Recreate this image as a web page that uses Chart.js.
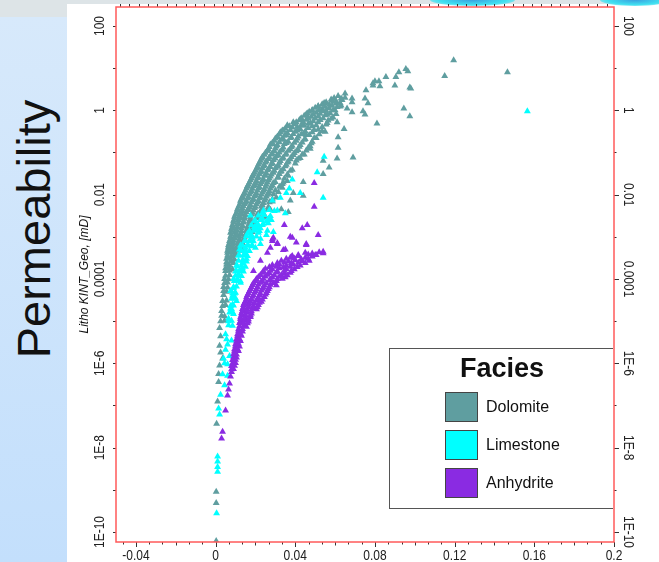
<!DOCTYPE html>
<html>
<head>
<meta charset="utf-8">
<script src="https://cdn.jsdelivr.net/npm/chart.js@4/dist/chart.umd.min.js"></script>
<style>
html,body{margin:0;padding:0;}
body{width:659px;height:562px;position:relative;overflow:hidden;background:#dde4e7;font-family:Arial,"Liberation Sans",sans-serif;}
#side{position:absolute;left:0;top:17px;width:67px;height:545px;background:linear-gradient(#d7e9fb,#c3dffc);}
#sheet{position:absolute;left:67px;top:4px;width:592px;height:558px;background:#fff;}
.blob{position:absolute;top:-6px;height:12px;border-radius:50%;background:radial-gradient(ellipse at center,#3aa0e0 0%,#40e0f0 55%,rgba(221,228,231,0) 100%);}
#bigTitle{position:absolute;left:-116px;top:199px;width:300px;height:60px;line-height:60px;font-size:47px;text-align:center;color:#111;transform:rotate(-90deg);transform-origin:50% 50%;white-space:nowrap;}
canvas{position:absolute;left:0;top:0;}
#legend{position:absolute;left:389px;top:348px;width:224px;height:161px;box-sizing:border-box;border:1.5px solid #555;border-right:none;background:#fff;}
#legend .ttl{position:absolute;left:0;width:224px;top:3px;text-align:center;font-weight:bold;font-size:27px;line-height:32px;color:#111;}
#legend .sw{position:absolute;left:55px;width:33px;height:30px;box-sizing:border-box;border:1px solid #444;}
#legend .lb{position:absolute;left:96px;font-size:16px;line-height:30px;color:#111;white-space:nowrap;}
</style>
</head>
<body>
<div id="side"></div>
<div id="sheet"></div>
<div class="blob" style="left:430px;width:85px;"></div>
<div class="blob" style="left:600px;width:70px;"></div>
<div id="bigTitle">Permeability</div>
<canvas id="c" width="659" height="562"></canvas>
<div id="legend"></div>
<script>
// ---- axis ticks / labels ----
const xTickValues = [-0.04, 0, 0.04, 0.08, 0.12, 0.16, 0.2];
const xTickLabels = ['-0.04', '0', '0.04', '0.08', '0.12', '0.16', '0.2'];
const yTickValues = [100, 1, 0.01, 0.0001, 1e-6, 1e-8, 1e-10];
const yTickLabels = ['100', '1', '0.01', '0.0001', '1E-6', '1E-8', '1E-10'];
const yDecades = [100, 10, 1, 0.1, 0.01, 1e-3, 1e-4, 1e-5, 1e-6, 1e-7, 1e-8, 1e-9, 1e-10];
const yAxisTitle = 'Litho KINT_Geo, [mD]';
const pageTitle = 'Permeability';
const legendTitle = 'Facies';
const seriesNames = ['Dolomite', 'Limestone', 'Anhydrite'];
const seriesColors = ['#5f9ea0', '#00ffff', '#8a2be2'];

// ---- series: [porosity, permeability mD] ----
const dolomitePoints = [
 [0.1195,15.5],[0.115,6.5],[0.1465,8.0],[0.0965,8.5],[0.0955,9.5],[0.092,8.0],[0.0905,6.2],[0.0855,6.2],
 [0.082,4.9],[0.080,4.9],[0.079,3.9],[0.0825,3.7],[0.090,3.9],[0.0975,3.5],[0.0755,3.0],[0.075,1.9],
 [0.0765,1.47],[0.074,0.95],[0.075,0.8],[0.0945,1.1],[0.0975,0.72],[0.081,0.49],[0.065,2.5],[0.0685,1.9],
 [0.0685,1.55],[0.063,1.3],[0.066,1.1],[0.0685,0.9],[0.060,1.0],[0.0585,1.7],[0.061,0.52],[0.0645,0.36],
 [0.098,3.3],[0.079,4.4],[0.0545,1.5],[0.0515,1.25],[0.0485,1.0],[0.046,0.85],[0.0425,0.61],[0.039,0.52],
 [0.036,0.44],[0.0335,0.33],[0.031,0.23],[0.0285,0.16],[0.026,0.11],[0.0235,0.076],[0.021,0.044],[0.0185,0.028],
 [0.016,0.016],[0.0135,0.0085],[0.011,0.0042],[0.0085,0.0016],[0.0065,0.00055],[0.006,0.00032],
 [0.069,0.076],[0.0615,0.23],[0.0615,0.13],[0.061,0.072],[0.057,0.044],[0.054,0.064],[0.054,0.031],
 [0.044,0.020],[0.044,0.0094],[0.039,0.011],[0.0375,0.0073],[0.0365,0.0039],
 [0.0615,2.2],[0.065,2.0],
 [0.058,1.8],[0.0605,1.65],[0.0635,1.75],
 [0.0535,1.4],[0.057,1.35],[0.0605,1.45],
 [0.05,1.15],[0.0535,1.08],[0.057,1.12],[0.061,1.2],
 [0.047,0.92],[0.0505,0.88],[0.054,0.95],[0.0575,0.85],
 [0.0445,0.74],[0.048,0.7],[0.0515,0.72],[0.055,0.76],[0.059,0.68],
 [0.042,0.58],[0.0455,0.6],[0.049,0.55],[0.0525,0.59],[0.0565,0.57],
 [0.0395,0.47],[0.043,0.45],[0.0465,0.48],[0.0505,0.44],[0.0555,0.46],
 [0.035,0.37],[0.0385,0.39],[0.0425,0.36],[0.0465,0.38],[0.0515,0.35],
 [0.0325,0.30],[0.036,0.29],[0.04,0.31],[0.044,0.28],[0.0485,0.30],[0.0535,0.32],
 [0.031,0.24],[0.0345,0.25],[0.038,0.23],[0.0415,0.24],[0.0455,0.26],[0.0505,0.22],
 [0.0295,0.19],[0.033,0.2],[0.0365,0.18],[0.0405,0.19],[0.0445,0.2],[0.0485,0.18],
 [0.0275,0.155],[0.031,0.15],[0.0345,0.16],[0.0385,0.145],[0.0425,0.15],[0.0475,0.14],
 [0.0265,0.12],[0.03,0.125],[0.0335,0.118],[0.0375,0.12],[0.0415,0.115],[0.0475,0.122],
 [0.025,0.098],[0.0285,0.095],[0.032,0.1],[0.0355,0.093],[0.0395,0.097],[0.0445,0.09],
 [0.0235,0.079],[0.027,0.077],[0.0305,0.082],[0.034,0.075],[0.038,0.078],[0.0425,0.074],
 [0.0225,0.064],[0.0255,0.062],[0.029,0.066],[0.0325,0.063],[0.0365,0.061],[0.0405,0.065],
 [0.0215,0.052],[0.0245,0.05],[0.028,0.053],[0.0315,0.049],[0.0355,0.051],
 [0.0205,0.041],[0.0235,0.042],[0.0265,0.04],[0.03,0.043],[0.034,0.04],[0.0385,0.039],
 [0.0195,0.033],[0.0225,0.034],[0.0255,0.032],[0.029,0.033],[0.0325,0.035],
 [0.0185,0.027],[0.0215,0.026],[0.0245,0.028],[0.0275,0.027],[0.0315,0.026],[0.0365,0.028],
 [0.0175,0.022],[0.0205,0.021],[0.0235,0.0215],[0.0265,0.022],[0.03,0.02],[0.036,0.021],
 [0.0165,0.0175],[0.0195,0.017],[0.0225,0.018],[0.0255,0.0172],[0.0285,0.0168],[0.0335,0.0178],
 [0.0155,0.014],[0.0185,0.0138],[0.0215,0.0142],[0.0245,0.0135],[0.0275,0.014],[0.0335,0.0145],
 [0.0145,0.011],[0.0175,0.0113],[0.0205,0.0108],[0.0235,0.0112],[0.0265,0.011],[0.0315,0.0115],
 [0.0135,0.009],[0.0165,0.0088],[0.0195,0.0092],[0.0225,0.0087],[0.0255,0.009],[0.0305,0.0086],
 [0.0125,0.0072],[0.0155,0.007],[0.0185,0.0074],[0.0215,0.0071],[0.0245,0.0073],[0.0285,0.0069],
 [0.012,0.0058],[0.0145,0.006],[0.0175,0.0057],[0.0205,0.0059],[0.0235,0.0056],
 [0.011,0.0046],[0.0135,0.0047],[0.0165,0.0045],[0.0195,0.0048],[0.0235,0.0046],[0.0275,0.0044],[0.033,0.0045],
 [0.0105,0.0037],[0.013,0.0036],[0.0155,0.0038],[0.0185,0.0037],[0.0215,0.0035],
 [0.0095,0.003],[0.012,0.0031],[0.0145,0.0029],[0.0175,0.003],[0.021,0.0031],[0.025,0.0029],
 [0.009,0.0024],[0.0115,0.0025],[0.014,0.0023],[0.017,0.0024],
 [0.0085,0.0019],[0.011,0.002],[0.0135,0.0018],[0.0165,0.0019],[0.0205,0.0019],
 [0.008,0.00155],[0.0105,0.0015],[0.013,0.0016],[0.016,0.00155],
 [0.0075,0.00125],[0.01,0.0013],[0.0125,0.0012],[0.0155,0.00125],[0.0185,0.0013],
 [0.0075,0.001],[0.0095,0.00098],[0.012,0.00102],[0.0145,0.001],
 [0.007,0.0008],[0.009,0.00082],[0.0115,0.00078],[0.014,0.0008],
 [0.0065,0.00064],[0.0085,0.00066],[0.011,0.00062],
 [0.0065,0.00052],[0.0085,0.0005],[0.0105,0.00053],[0.0135,0.00051],
 [0.006,0.00042],[0.008,0.00043],[0.01,0.0004],
 [0.0055,0.0003],[0.0075,0.00031],[0.0095,0.00029],
 [0.0055,0.00022],[0.007,0.00021],
 [0.005,0.000155],[0.007,0.00016],
 [0.0045,0.0001],[0.0065,0.000098],
 [0.004,6.5e-5],[0.006,6.3e-5],
 [0.004,4.2e-5],
 [0.0035,3.0e-5],[0.0055,3.1e-5],
 [0.003,1.73e-5],
 [0.0025,1.0e-5],[0.0045,1.02e-5],
 [0.002,6.9e-6],[0.0025,4.4e-6],[0.002,2.6e-6],[0.0025,1.8e-6],[0.0035,1.3e-6],[0.002,8.9e-7],
 [0.0015,5.6e-7],[0.0015,3.6e-7],[0.001,1.25e-7],[0.0005,3.7e-8],
 [0.0003,9e-10],[0.0003,4.9e-10],[0.0003,6.1e-11],
 // in-between rows of the dense cloud
 [0.0595,1.95],[0.063,1.9],
 [0.0555,1.55],[0.059,1.6],[0.0625,1.5],
 [0.0515,1.25],[0.055,1.22],[0.0585,1.28],[0.0625,1.24],
 [0.0485,1.0],[0.052,1.02],[0.0555,0.98],[0.059,1.0],
 [0.0455,0.81],[0.049,0.8],[0.0525,0.83],[0.056,0.79],[0.0605,0.82],
 [0.043,0.65],[0.0465,0.66],[0.05,0.64],[0.054,0.65],[0.058,0.63],
 [0.0405,0.52],[0.044,0.53],[0.0475,0.51],[0.0515,0.52],[0.056,0.5],
 [0.037,0.42],[0.041,0.41],[0.0445,0.43],[0.0485,0.42],[0.0535,0.4],
 [0.034,0.33],[0.0375,0.34],[0.041,0.33],[0.045,0.32],[0.0495,0.34],[0.055,0.31],
 [0.032,0.27],[0.0355,0.26],[0.039,0.275],[0.043,0.27],[0.047,0.26],[0.052,0.27],
 [0.030,0.215],[0.034,0.21],[0.0375,0.22],[0.041,0.215],[0.045,0.21],[0.0495,0.22],
 [0.0285,0.17],[0.032,0.175],[0.0355,0.168],[0.0395,0.17],[0.0435,0.172],[0.048,0.165],
 [0.027,0.135],[0.0305,0.138],[0.034,0.132],[0.038,0.135],[0.042,0.137],[0.0465,0.13],
 [0.026,0.11],[0.0295,0.108],[0.033,0.112],[0.0365,0.11],[0.0405,0.107],[0.0455,0.111],
 [0.0245,0.088],[0.028,0.09],[0.0315,0.086],[0.035,0.088],[0.039,0.087],[0.0435,0.089],
 [0.023,0.071],[0.0265,0.07],[0.03,0.072],[0.0335,0.071],[0.0375,0.069],[0.0415,0.071],
 [0.022,0.057],[0.025,0.058],[0.0285,0.056],[0.032,0.057],[0.036,0.058],[0.04,0.055],
 [0.021,0.046],[0.024,0.047],[0.0275,0.045],[0.031,0.046],[0.035,0.047],
 [0.02,0.037],[0.023,0.036],[0.026,0.038],[0.0295,0.037],[0.033,0.036],[0.0375,0.037],
 [0.019,0.030],[0.022,0.031],[0.025,0.029],[0.028,0.030],[0.032,0.031],[0.036,0.030],
 [0.018,0.024],[0.021,0.0245],[0.024,0.0235],[0.027,0.024],[0.031,0.025],[0.0345,0.024],
 [0.017,0.0193],[0.02,0.019],[0.023,0.0197],[0.026,0.0193],[0.029,0.019],[0.034,0.0195],
 [0.016,0.0155],[0.019,0.0158],[0.022,0.0152],[0.025,0.0155],[0.028,0.0157],[0.032,0.0153],
 [0.015,0.0124],[0.018,0.0122],[0.021,0.0126],[0.024,0.0124],[0.027,0.0121],[0.03,0.0125],
 [0.014,0.0100],[0.017,0.0102],[0.02,0.0098],[0.023,0.0101],[0.026,0.0099],[0.029,0.0102],
 [0.013,0.008],[0.016,0.0081],[0.019,0.0079],[0.022,0.0082],[0.025,0.008],[0.0285,0.0078],
 [0.0125,0.0065],[0.015,0.0064],[0.018,0.0066],[0.021,0.0065],[0.024,0.0063],[0.027,0.0066],
 [0.0115,0.0052],[0.014,0.0053],[0.017,0.0051],[0.02,0.0052],[0.023,0.0053],[0.0265,0.0051],
 [0.011,0.0042],[0.0135,0.0041],[0.016,0.0043],[0.019,0.0042],[0.0225,0.0041],[0.026,0.0043],
 [0.010,0.0034],[0.0125,0.0035],[0.015,0.0033],[0.018,0.0034],[0.021,0.0035],[0.0245,0.0033],
 [0.0095,0.0027],[0.012,0.0028],[0.0145,0.0027],[0.0175,0.0026],[0.0205,0.0028],
 [0.009,0.0022],[0.0115,0.0021],[0.014,0.0022],[0.017,0.0023],[0.0195,0.0021],
 [0.0085,0.00175],[0.011,0.0017],[0.0135,0.0018],[0.016,0.00172],[0.019,0.00175],
 [0.008,0.0014],[0.0105,0.00142],[0.013,0.00138],[0.0155,0.0014],[0.0175,0.00143],
 [0.008,0.00112],[0.0105,0.0011],[0.013,0.00114],[0.015,0.00111],
 [0.0075,0.0009],[0.0095,0.00092],[0.012,0.00088],[0.0145,0.0009],
 [0.007,0.00072],[0.009,0.0007],[0.0115,0.00073],[0.0135,0.00071],
 [0.0065,0.00058],[0.0085,0.00059],[0.011,0.00057],
 [0.006,0.00047],[0.008,0.00046],[0.01,0.00048],[0.0125,0.00047],
 [0.006,0.00036],[0.008,0.00035],[0.01,0.00037],
 [0.0055,0.00025],[0.0075,0.00026],[0.009,0.00024],
 [0.005,0.00018],[0.0065,0.00019],[0.0085,0.00017],
 [0.005,0.00012],[0.007,0.000125],
 [0.0045,8e-5],[0.006,8.2e-5],
 [0.004,5.2e-5],[0.0055,5.0e-5],
 [0.0035,2.3e-5],[0.005,2.4e-5],
 [0.003,1.35e-5],[0.0045,1.3e-5]
];

const limestonePoints = [
 [0.1565,0.95],[0.0545,0.079],[0.051,0.034],[0.054,0.0085],[0.0425,0.011],[0.0385,0.023],[0.037,0.014],
 [0.0355,0.011],[0.0325,0.0085],[0.0285,0.0073],[0.031,0.0042],[0.035,0.0036],[0.0235,0.0036],[0.0265,0.0027],
 [0.0215,0.0019],[0.019,0.0014],[0.029,0.0013],[0.0175,0.0008],[0.0225,0.00068],[0.015,0.00055],
 [0.024,0.00204],[0.021,0.00155],[0.0185,0.00095],[0.0165,0.00062],[0.015,0.0004],[0.0135,0.00024],
 [0.0125,0.000155],[0.011,0.0001],[0.009,6.1e-5],[0.0085,4.0e-5],[0.0085,2.5e-5],[0.009,1.47e-5],
 [0.005,4.9e-6],[0.006,2.8e-6],[0.005,2.1e-6],[0.004,1.3e-6],[0.006,9.5e-7],[0.0035,5.5e-7],
 [0.0025,1.8e-7],[0.0015,8.5e-8],[0.002,6.1e-8],[0.001,6.2e-9],[0.001,4.7e-9],[0.001,3.5e-9],
 [0.001,2.7e-9],[0.0005,2.8e-10],
 [0.026,0.00139],[0.0225,0.0009],[0.02,0.00055],[0.014,0.00027],[0.0115,0.00013],[0.01,3.5e-5],[0.006,5.1e-7],
 [0.0175,0.0032],[0.02,0.0024],[0.0235,0.0027],[0.0265,0.0021],[0.0215,0.00125],[0.0175,0.00105],
 [0.015,0.0008],[0.0125,0.00062],[0.0185,0.00062],[0.0115,0.00036],[0.0155,0.0003],[0.0105,0.00021],
 [0.0135,0.00018],[0.0095,9e-5],[0.0125,8.1e-5],[0.0075,5.2e-5],[0.0105,3.0e-5],[0.008,1.95e-5],
 [0.0065,1.15e-5],[0.0085,7.8e-6],[0.0055,3.7e-6],[0.007,1.5e-6],[0.0045,3.0e-7],
 [0.012,0.0005],[0.016,0.0012],[0.0195,0.0017],[0.0225,0.0016],[0.028,0.0025],[0.0255,0.0011],
 [0.01,0.00015],[0.009,0.0001],[0.0075,2e-5],[0.0065,8e-6],[0.0095,4.5e-5],[0.008,3.5e-6],[0.0045,1e-6],
 // main limestone band
 [0.024,0.0042],[0.027,0.0043],[0.0295,0.0041],
 [0.0215,0.0032],[0.0245,0.0033],[0.0275,0.0031],
 [0.0195,0.0024],[0.0225,0.0025],[0.0255,0.0023],
 [0.018,0.0019],[0.0205,0.00185],[0.0235,0.0019],
 [0.017,0.0014],[0.0195,0.00145],[0.022,0.00138],
 [0.0155,0.00105],[0.018,0.0011],[0.0205,0.00102],
 [0.0145,0.0008],[0.017,0.00082],[0.019,0.00079],
 [0.0135,0.00062],[0.016,0.00063],[0.018,0.0006],
 [0.013,0.00047],[0.015,0.00048],[0.017,0.00046],
 [0.012,0.00036],[0.014,0.00037],[0.016,0.00035],
 [0.0115,0.00027],[0.0135,0.00028],[0.0155,0.00026],
 [0.011,0.0002],[0.013,0.00021],[0.015,0.000195],
 [0.0105,0.000155],[0.012,0.00016],[0.014,0.00015],
 [0.01,0.00012],[0.0115,0.000125],[0.013,0.000118],
 [0.0095,9e-5],[0.011,9.2e-5],[0.0125,8.8e-5],
 [0.009,6.5e-5],[0.0105,6.6e-5],
 [0.0085,4.6e-5],[0.01,4.7e-5],
 [0.008,3.4e-5],[0.0095,3.5e-5],
 [0.0075,2.3e-5],[0.009,2.35e-5],
 [0.007,1.6e-5],[0.0085,1.62e-5],
 [0.0065,1.0e-5],[0.008,1.02e-5]
];

const anhydritePoints = [
 [0.0495,0.019],[0.0495,0.0052],[0.046,0.0019],[0.0435,0.0016],[0.0345,0.0019],[0.0515,0.0011],
 [0.0385,0.00095],[0.0455,0.00068],[0.034,0.00049],[0.0405,0.00073],[0.054,0.00044],[0.05,0.00037],
 [0.0385,0.00035],[0.031,0.00068],[0.0285,0.00088],[0.0455,0.00064],[0.0375,0.001],[0.035,0.0005],
 [0.031,0.0007],[0.029,0.00095],[0.0375,0.00032],
 [0.026,4.2e-4],[0.0275,5.5e-4],[0.0225,2.7e-4],[0.019,1.55e-4],[0.0285,8e-4],
 [0.045,4.2e-4],[0.0485,4.0e-4],[0.052,4.3e-4],[0.054,4.1e-4],
 [0.038,3.3e-4],[0.0415,3.5e-4],[0.045,3.2e-4],[0.0485,3.4e-4],
 [0.033,2.7e-4],[0.0365,2.6e-4],[0.04,2.8e-4],[0.0435,2.65e-4],[0.047,2.7e-4],
 [0.0285,2.15e-4],[0.032,2.2e-4],[0.0355,2.1e-4],[0.039,2.2e-4],[0.0425,2.1e-4],
 [0.025,1.75e-4],[0.0285,1.7e-4],[0.032,1.8e-4],[0.0355,1.72e-4],[0.0395,1.7e-4],
 [0.0235,1.4e-4],[0.027,1.38e-4],[0.0305,1.42e-4],[0.0345,1.36e-4],[0.0375,1.4e-4],
 [0.0215,1.12e-4],[0.025,1.15e-4],[0.0285,1.1e-4],[0.032,1.13e-4],[0.035,1.1e-4],
 [0.02,9e-5],[0.0235,8.8e-5],[0.027,9.2e-5],[0.0305,8.9e-5],
 [0.0185,7.2e-5],[0.0215,7.4e-5],[0.0245,7.0e-5],[0.0275,7.3e-5],[0.0305,7.1e-5],
 [0.0175,5.8e-5],[0.0205,5.7e-5],[0.0235,5.9e-5],[0.0265,5.75e-5],
 [0.0165,4.6e-5],[0.0195,4.7e-5],[0.0225,4.5e-5],[0.0255,4.65e-5],
 [0.0155,3.7e-5],[0.0185,3.8e-5],[0.0215,3.65e-5],[0.0245,3.75e-5],
 [0.015,3.0e-5],[0.0175,2.95e-5],[0.0205,3.05e-5],[0.023,2.9e-5],
 [0.014,2.4e-5],[0.0165,2.45e-5],[0.019,2.35e-5],[0.0215,2.4e-5],
 [0.0135,1.93e-5],[0.016,1.9e-5],[0.0185,1.97e-5],[0.0205,1.92e-5],
 [0.013,1.55e-5],[0.0155,1.58e-5],[0.018,1.52e-5],
 [0.0125,1.24e-5],[0.015,1.22e-5],[0.0175,1.26e-5],
 [0.0125,1.0e-5],[0.0145,1.02e-5],[0.0165,0.98e-5],
 [0.012,7.6e-6],[0.014,7.8e-6],[0.0155,7.4e-6],
 [0.0115,5.8e-6],[0.0135,5.7e-6],
 [0.011,4.4e-6],[0.013,4.5e-6],
 [0.0105,3.3e-6],[0.0125,3.4e-6],
 [0.01,2.55e-6],[0.012,2.5e-6],
 [0.0095,1.93e-6],[0.0115,1.95e-6],
 [0.009,1.4e-6],[0.0105,1.38e-6],
 [0.0085,1.0e-6],[0.01,1.02e-6],
 [0.008,7.2e-7],[0.009,7.3e-7],
 [0.0075,4.9e-7],[0.007,3.34e-7],[0.0065,2.4e-7],[0.006,1.73e-7],[0.005,7.6e-8],[0.0035,2.4e-8],[0.003,1.64e-8],
 // in-between rows of the band
 [0.0415,3.73e-4],[0.0465,3.8e-4],[0.0505,3.7e-4],
 [0.0355,3.0e-4],[0.0395,3.05e-4],[0.043,2.95e-4],[0.0465,3.0e-4],
 [0.031,2.4e-4],[0.0345,2.45e-4],[0.038,2.38e-4],[0.0415,2.42e-4],[0.045,2.4e-4],
 [0.027,1.93e-4],[0.0305,1.95e-4],[0.034,1.9e-4],[0.0375,1.94e-4],[0.041,1.92e-4],
 [0.024,1.55e-4],[0.0275,1.57e-4],[0.031,1.53e-4],[0.0345,1.56e-4],[0.038,1.54e-4],
 [0.0225,1.24e-4],[0.026,1.26e-4],[0.0295,1.22e-4],[0.033,1.25e-4],[0.036,1.23e-4],
 [0.0205,1.0e-4],[0.024,1.01e-4],[0.0275,0.99e-4],[0.031,1.0e-4],[0.0335,1.02e-4],
 [0.019,8e-5],[0.0225,8.1e-5],[0.0255,7.9e-5],[0.029,8e-5],
 [0.018,6.4e-5],[0.021,6.5e-5],[0.024,6.3e-5],[0.027,6.4e-5],
 [0.017,5.2e-5],[0.02,5.1e-5],[0.023,5.3e-5],[0.026,5.2e-5],
 [0.016,4.2e-5],[0.019,4.1e-5],[0.022,4.2e-5],[0.025,4.3e-5],
 [0.0155,3.3e-5],[0.018,3.35e-5],[0.021,3.3e-5],[0.0235,3.25e-5],
 [0.0145,2.7e-5],[0.017,2.65e-5],[0.0195,2.7e-5],[0.022,2.72e-5],
 [0.014,2.15e-5],[0.0165,2.17e-5],[0.019,2.13e-5],[0.021,2.15e-5],
 [0.0135,1.73e-5],[0.0155,1.75e-5],[0.018,1.72e-5],
 [0.013,1.39e-5],[0.015,1.4e-5],[0.0175,1.38e-5],
 [0.0125,1.12e-5],[0.0145,1.13e-5],[0.0165,1.11e-5],
 [0.012,9e-6],[0.014,9.1e-6],[0.016,8.9e-6],
 [0.0115,6.4e-6],[0.0135,6.5e-6],
 [0.011,4.9e-6],[0.0125,5.0e-6],
 [0.0105,3.7e-6],[0.012,3.75e-6],
 [0.01,2.85e-6],[0.0115,2.9e-6],
 [0.0095,2.15e-6],[0.011,2.2e-6],
 [0.009,1.65e-6],[0.0105,1.62e-6],
 [0.0085,1.2e-6],[0.01,1.22e-6],
 [0.008,8.6e-7],[0.0095,8.7e-7],
 [0.008,6.2e-7]
];

const seriesPoints = [dolomitePoints, limestonePoints, anhydritePoints];

// axis extents
const X_MIN = -0.05, X_MAX = 0.2;
const Y_MIN = 5.79e-11, Y_MAX = 282;

// ---- page texts ----
document.getElementById('bigTitle').textContent = pageTitle;
const lg = document.getElementById('legend');
lg.innerHTML = '<div class="ttl">' + legendTitle + '</div>';
seriesNames.forEach((n, i) => {
  const top = 43 + i * 38;
  lg.innerHTML += '<div class="sw" style="top:' + top + 'px;background:' + seriesColors[i] + '"></div>' +
                  '<div class="lb" style="top:' + top + 'px">' + n + '</div>';
});

function tickText(ctx, text, x, y, rot) {
  ctx.save();
  ctx.translate(x, y);
  ctx.rotate(rot);
  ctx.scale(1, 1.22);
  ctx.fillText(text, 0, 0);
  ctx.restore();
}

const decoPlugin = {
  id: 'deco',
  afterDraw(chart) {
    const ctx = chart.ctx, a = chart.chartArea, xs = chart.scales.x, ys = chart.scales.y;
    ctx.save();
    ctx.strokeStyle = '#333';
    ctx.lineWidth = 1;
    ctx.beginPath();
    const step = 0.04 / 6;
    for (let i = -8; i <= 32; i++) {
      const v = i * step;
      if (v < X_MIN - 1e-9 || v > X_MAX + 1e-9) continue;
      const px = Math.round(xs.getPixelForValue(v)) + 0.5;
      const len = (i % 6 === 0) ? 5 : ((i % 3 === 0) ? 3.5 : 2.5);
      ctx.moveTo(px, a.bottom); ctx.lineTo(px, a.bottom + len);
    }
    for (let v = -0.048; v <= X_MAX; v += 0.0047) {
      const px = Math.round(xs.getPixelForValue(v)) + 0.5;
      ctx.moveTo(px, a.top); ctx.lineTo(px, a.top - 3);
    }
    yDecades.forEach(v => {
      const py = Math.round(ys.getPixelForValue(v)) + 0.5;
      const major = yTickValues.includes(v);
      ctx.moveTo(a.left - 3, py); ctx.lineTo(a.left, py);
      ctx.moveTo(a.right, py); ctx.lineTo(a.right + (major ? 5 : 2.5), py);
    });
    ctx.stroke();

    ctx.fillStyle = '#222';
    ctx.font = '12px Arial, "Liberation Sans", sans-serif';
    ctx.textAlign = 'center';
    ctx.textBaseline = 'middle';
    xTickValues.forEach((v, i) => {
      tickText(ctx, xTickLabels[i], xs.getPixelForValue(v), a.bottom + 14, 0);
    });
    yTickValues.forEach((v, i) => {
      const py = ys.getPixelForValue(v);
      tickText(ctx, yTickLabels[i], a.left - 16, py, -Math.PI / 2);
      tickText(ctx, yTickLabels[i], a.right + 14, py, Math.PI / 2);
    });
    ctx.save();
    ctx.translate(a.left - 31, (a.top + a.bottom) / 2);
    ctx.rotate(-Math.PI / 2);
    ctx.font = 'italic 12px Arial, "Liberation Sans", sans-serif';
    ctx.fillStyle = '#111';
    ctx.fillText(yAxisTitle, 0, 0);
    ctx.restore();

    ctx.strokeStyle = '#ff5a5a';
    ctx.lineWidth = 1.5;
    ctx.strokeRect(a.left, a.top, a.right - a.left, a.bottom - a.top);
    ctx.restore();
  }
};

const orders = [3, 2, 1];
new Chart(document.getElementById('c'), {
  type: 'scatter',
  data: {
    datasets: seriesNames.map((n, i) => ({
      label: n,
      data: seriesPoints[i].map(p => ({ x: p[0], y: p[1] })),
      backgroundColor: seriesColors[i],
      borderColor: seriesColors[i],
      borderWidth: 0,
      pointStyle: 'triangle',
      pointRadius: 4,
      order: orders[i]
    }))
  },
  options: {
    responsive: false,
    animation: false,
    events: [],
    layout: { padding: { top: 7, right: 45, left: 0, bottom: 0 } },
    plugins: { legend: { display: false }, tooltip: { enabled: false } },
    scales: {
      x: {
        type: 'linear', min: X_MIN, max: X_MAX, position: 'bottom',
        grid: { display: false }, border: { display: false }, ticks: { display: false },
        afterFit(s) { s.height = 20; }
      },
      y: {
        type: 'logarithmic', min: Y_MIN, max: Y_MAX, position: 'left',
        grid: { display: false }, border: { display: false }, ticks: { display: false },
        afterFit(s) { s.width = 116; }
      }
    }
  },
  plugins: [decoPlugin]
});
</script>
</body>
</html>
